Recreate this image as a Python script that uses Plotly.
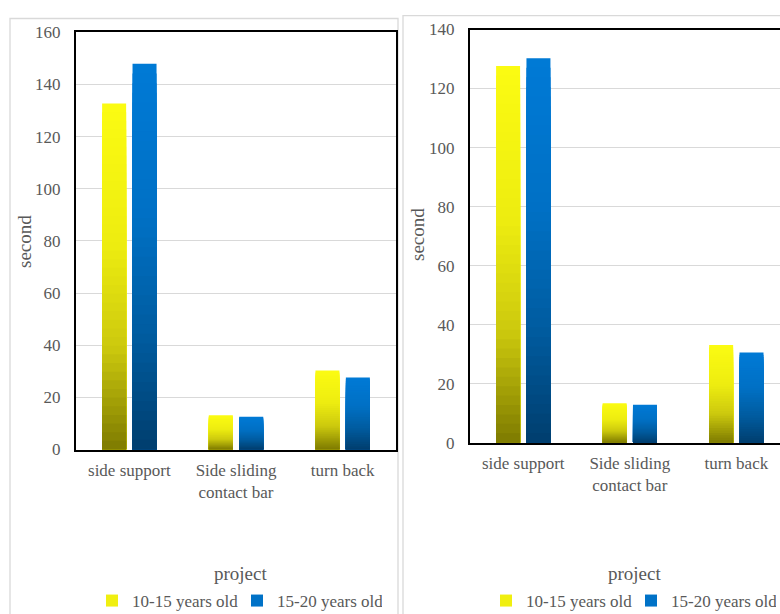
import plotly.graph_objects as go

# ---------------- data ----------------
categories = ["side support", "Side sliding<br>contact bar", "turn back"]
series_names = ["10-15 years old", "15-20 years old"]
left_10_15 = [132.7, 13.1, 30.3]
left_15_20 = [147.9, 12.6, 27.6]
right_10_15 = [127.6, 13.4, 33.1]
right_15_20 = [130.3, 12.9, 30.6]
left_yticks = [0, 20, 40, 60, 80, 100, 120, 140, 160]
right_yticks = [0, 20, 40, 60, 80, 100, 120, 140]
axis_titles = {"y": "second", "x": "project"}

# ---------------- style ----------------
FONT = "Liberation Serif"
TXT = "#595959"
GRID = "#d9d9d9"
W, H = 780, 614
N = 40  # gradient bands per bar

yellow_stops = [(0.0, (251, 251, 18)), (0.40, (238, 237, 16)), (0.70, (205, 202, 14)), (1.0, (126, 123, 0))]
blue_stops = [(0.0, (0, 122, 214)), (0.40, (0, 112, 196)), (0.70, (0, 92, 160)), (1.0, (0, 62, 110))]


def grad(stops, t):
    for (t0, c0), (t1, c1) in zip(stops[:-1], stops[1:]):
        if t <= t1:
            f = (t - t0) / (t1 - t0) if t1 > t0 else 0
            c = [round(a + (b - a) * f) for a, b in zip(c0, c1)]
            return "rgb(%d,%d,%d)" % tuple(c)
    return "rgb(%d,%d,%d)" % stops[-1][1]


fig = go.Figure()


def add_series(values, name, stops, xa, ya, legend, group):
    # draw the full bar first, then successively shorter bars with darker colour
    for k in range(N):
        frac = (N - k) / N
        col = grad(stops, (k + 0.5) / N)
        fig.add_trace(go.Bar(
            x=categories, y=[v * frac for v in values],
            name=name, offsetgroup=group, legendgroup=name + legend,
            showlegend=(k == N // 3), legend=legend,
            marker=dict(color=col, line=dict(width=0)),
            xaxis=xa, yaxis=ya, hoverinfo="skip",
        ))


add_series(left_10_15, series_names[0], yellow_stops, "x", "y", "legend", "a")
add_series(left_15_20, series_names[1], blue_stops, "x", "y", "legend", "b")
add_series(right_10_15, series_names[0], yellow_stops, "x2", "y2", "legend2", "a")
add_series(right_15_20, series_names[1], blue_stops, "x2", "y2", "legend2", "b")

tickfont = dict(family=FONT, size=17, color=TXT)
common_x = dict(type="category", showgrid=False, zeroline=False, showline=True,
                linecolor="black", linewidth=2, mirror=True, ticks="",
                tickfont=tickfont, fixedrange=True, ticklabelstandoff=4,
                automargin=False)
common_y = dict(showgrid=True, gridcolor=GRID, gridwidth=1, zeroline=False,
                showline=True, linecolor="black", linewidth=2, ticks="",
                tickfont=tickfont, ticklabelstandoff=10, automargin=False)

legend_font = dict(family=FONT, size=17, color=TXT)

fig.update_layout(
    width=W, height=H,
    margin=dict(l=0, r=0, t=0, b=0, autoexpand=False),
    paper_bgcolor="white", plot_bgcolor="white",
    barmode="group", bargap=0.43, bargroupgap=0.21,
    font=dict(family=FONT, color=TXT),
    xaxis=dict(common_x, domain=[76 / W, 396 / W], range=[-0.5, 2.5], anchor="y"),
    yaxis=dict(common_y, domain=[1 - 449.5 / H, 1 - 32.3 / H], range=[0, 160],
               tickvals=left_yticks, mirror=True, anchor="x"),
    xaxis2=dict(common_x, domain=[470 / W, 1.0], range=[-0.5, 2.41], anchor="y2"),
    yaxis2=dict(common_y, domain=[1 - 442.7 / H, 1 - 29.5 / H], range=[0, 140],
                tickvals=right_yticks, mirror=False, anchor="x2"),
    legend=dict(orientation="h", x=92 / W, y=1 - 601 / H, xanchor="left", yanchor="middle",
                font=legend_font, bgcolor="rgba(0,0,0,0)",
                entrywidth=100, entrywidthmode="pixels"),
    legend2=dict(orientation="h", x=486 / W, y=1 - 601 / H, xanchor="left", yanchor="middle",
                 font=legend_font, bgcolor="rgba(0,0,0,0)",
                 entrywidth=100, entrywidthmode="pixels"),
    showlegend=True,
)

# panel borders
fig.add_shape(type="rect", xref="paper", yref="paper", x0=10 / W, x1=398 / W,
              y0=-0.05, y1=1 - 18.5 / H, line=dict(color=GRID, width=1.3), layer="below")
fig.add_shape(type="rect", xref="paper", yref="paper", x0=403 / W, x1=1.05,
              y0=-0.05, y1=1 - 15.7 / H, line=dict(color=GRID, width=1.3), layer="below")

title_font = dict(family=FONT, size=19, color=TXT)
for x, y in [(25, 241), (418, 235)]:
    fig.add_annotation(text=axis_titles["y"], xref="paper", yref="paper", x=x / W, y=1 - y / H,
                       textangle=-90, showarrow=False, font=title_font,
                       xanchor="center", yanchor="middle")
for x, y in [(240, 573), (634, 573)]:
    fig.add_annotation(text=axis_titles["x"], xref="paper", yref="paper", x=x / W, y=1 - y / H,
                       showarrow=False, font=title_font, xanchor="center", yanchor="middle")

fig.write_html(
    "out.html",
    config={"displayModeBar": False, "staticPlot": True},
    post_script=(
        "document.documentElement.style.margin='0';"
        "document.documentElement.style.overflow='hidden';"
        "document.body.style.margin='0';document.body.style.padding='0';"
        "document.body.style.overflow='hidden';"
        "var gd=document.getElementById('{plot_id}');"
        "gd.style.position='fixed';gd.style.top='0';gd.style.left='0';"
    ),
)
